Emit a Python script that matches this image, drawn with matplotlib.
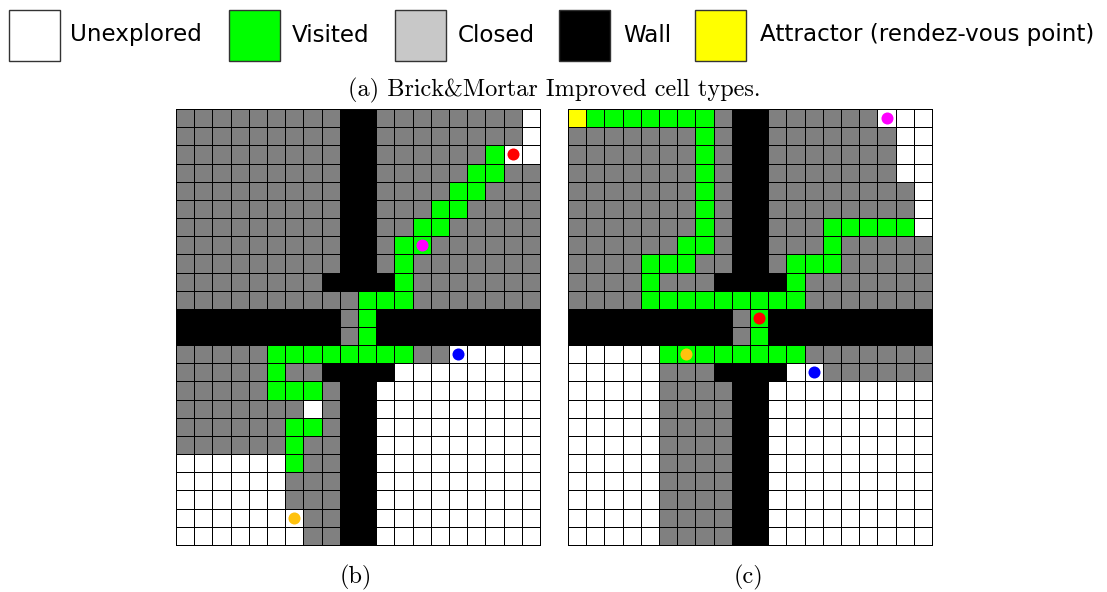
import numpy as np
import matplotlib
matplotlib.use("Agg")
import matplotlib.pyplot as plt
from matplotlib.colors import ListedColormap
from matplotlib.patches import Rectangle

# cell codes: '.' unexplored, 'v' visited, 'c' closed, 'w' wall, 'a' attractor
grid_b = [
    "cccccccccwwcccccccc.",
    "cccccccccwwcccccccc.",
    "cccccccccwwccccccv..",
    "cccccccccwwcccccvvcc",
    "cccccccccwwccccvvccc",
    "cccccccccwwcccvvcccc",
    "cccccccccwwccvvccccc",
    "cccccccccwwcvvcccccc",
    "cccccccccwwcvccccccc",
    "ccccccccwwwwvccccccc",
    "ccccccccccvvvccccccc",
    "wwwwwwwwwcvwwwwwwwww",
    "wwwwwwwwwcvwwwwwwwww",
    "cccccvvvvvvvvcc.....",
    "cccccvccwwww........",
    "cccccvvvcww.........",
    "ccccccc.cww.........",
    "ccccccvvcww.........",
    "ccccccvccww.........",
    "......vccww.........",
    "......cccww.........",
    "......cccww.........",
    ".......ccww.........",
    ".......ccww.........",
]

grid_c = [
    "avvvvvvvcwwcccccc...",
    "cccccccvcwwccccccc..",
    "cccccccvcwwccccccc..",
    "cccccccvcwwccccccc..",
    "cccccccvcwwcccccccc.",
    "cccccccvcwwcccccccc.",
    "cccccccvcwwcccvvvvv.",
    "ccccccvvcwwcccvccccc",
    "ccccvvvccwwcvvvccccc",
    "ccccvcccwwwwvccccccc",
    "ccccvvvvvvvvvccccccc",
    "wwwwwwwwwcvwwwwwwwww",
    "wwwwwwwwwcvwwwwwwwww",
    ".....vvvvvvvvccccccc",
    ".....cccwwww..cccccc",
    ".....ccccww.........",
    ".....ccccww.........",
    ".....ccccww.........",
    ".....ccccww.........",
    ".....ccccww.........",
    ".....ccccww.........",
    ".....ccccww.........",
    ".....ccccww.........",
    ".....ccccww.........",
]

# robot positions (row, col) per grid
robot_colors = ["#ff0000", "#ff00ff", "#0000ff", "#ffc20e"]
robots_b = [(2, 18), (7, 13), (13, 15), (22, 6)]
robots_c = [(11, 10), (0, 17), (14, 13), (13, 6)]

legend_labels = ["Unexplored", "Visited", "Closed", "Wall", "Attractor (rendez-vous point)"]
legend_colors = ["#ffffff", "#00ff00", "#c8c8c8", "#000000", "#ffff00"]

codes = {'.': 0, 'v': 1, 'c': 2, 'w': 3, 'a': 4}
cmap = ListedColormap(["#ffffff", "#00ff00", "#808080", "#000000", "#ffff00"])

W, H = 1107, 592
fig = plt.figure(figsize=(W / 100, H / 100), dpi=100)

def fx(px):
    return px / W

def fy(py):
    return 1 - py / H

def draw_grid(grid, robots, left_px, caption):
    arr = np.array([[codes[ch] for ch in row] for row in grid])
    nr, nc = arr.shape
    ax = fig.add_axes([fx(left_px), fy(545), 364 / W, 436 / H])
    mesh = ax.pcolormesh(np.arange(nc + 1), np.arange(nr + 1), arr, cmap=cmap,
                         vmin=-0.5, vmax=4.5, edgecolors="black", linewidth=0.6)
    mesh.set_clip_on(False)
    for (r, c), col in zip(robots, robot_colors):
        ax.scatter([c + 0.5], [r + 0.5], s=75, color=col, zorder=5, linewidths=0)
    ax.set_xlim(0, nc)
    ax.set_ylim(nr, 0)
    ax.axis("off")
    fig.text(fx(left_px + 180), fy(577), caption, ha="center", va="center",
             fontsize=17.5, family="cmr10")

draw_grid(grid_b, robots_b, 176, "(b)")
draw_grid(grid_c, robots_c, 568, "(c)")

# legend row
lax = fig.add_axes([0, 0, 1, 1])
lax.set_xlim(0, W)
lax.set_ylim(H, 0)
lax.axis("off")
square_x = [9, 229, 395, 559, 695]
text_x = [70, 292, 458, 623, 760]
for sx, tx, lab, col in zip(square_x, text_x, legend_labels, legend_colors):
    lax.add_patch(Rectangle((sx, 10), 51, 51, facecolor=col, edgecolor="#333333", linewidth=1.0))
    lax.text(tx, 35, lab, ha="left", va="center", fontsize=16.6, family="DejaVu Sans")

fig.text(fx(554), fy(90), "(a) Brick&Mortar Improved cell types.", ha="center", va="center",
         fontsize=17.5, family="cmr10")

fig.savefig("out.png", dpi=100)
